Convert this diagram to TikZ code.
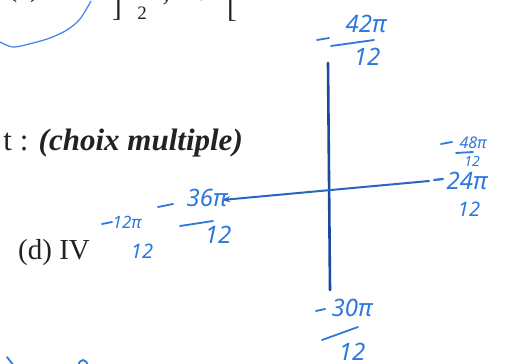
\documentclass[tikz,border=0pt]{standalone}
\usepackage{fontspec}
\setmainfont{Liberation Serif}
\newfontfamily\hand{Noto Sans}
\usetikzlibrary{arrows.meta}
\definecolor{ink}{HTML}{2E78DC}
\definecolor{axisink}{HTML}{1C4A9A}
\definecolor{hink}{HTML}{2A66C0}
\definecolor{printink}{HTML}{222222}
\definecolor{circink}{HTML}{4A8AE6}
\begin{document}
\begin{tikzpicture}[x=1pt,y=-1pt,
  hw/.style={text=ink, font=\hand\itshape\fontsize{#1}{#1}\selectfont, inner sep=0pt},
  hw/.default=24,
  stroke/.style={draw=ink, line width=1.8pt, line cap=round},
  vaxis/.style={draw=axisink, line width=2.6pt, line cap=round},
  haxis/.style={draw=hink, line width=2pt, line cap=round},
  printed/.style={text=printink, inner sep=0pt, font=\fontsize{#1}{#1}\selectfont},
  printed/.default=29]
\useasboundingbox (0,0) rectangle (506,364);
\clip (0,0) rectangle (506,364);
\fill[white] (0,0) rectangle (506,364);

% printed text
\node[printed, anchor=base east] (tc) at (40,-3) {(c)};
\node[printed, anchor=south] (rb) at (117,21) {]};
\node[printed=19, anchor=south] (two) at (142,20) {2};
\node[printed, anchor=base west] (semi) at (162,1) {;\,2π};
\node[printed, anchor=south] (lb) at (232,22) {[};
\node[printed=31, anchor=base east] (choix) at (243,150) {t : \textbf{\textit{(choix multiple)}}};
\node[printed, anchor=base west] (dIV) at (18,259) {(d) IV};

% blue circle arc
\draw[circink, line width=1.3pt] plot[smooth] coordinates {(-2,41) (13,47) (33,43) (50,38) (67,30) (80,19) (91,1)};

% axes
\coordinate (vt) at (328,63);
\coordinate (vb) at (330,290);
\coordinate (hl) at (222,200);
\coordinate (hr) at (429,181);
\draw[vaxis] (vt) -- (vb);
\draw[haxis, {Stealth[length=8pt,width=6pt]}-] (hl) -- (hr);

% top: -42pi/12
\node[hw] (n42) at (366,24) {42π};
\node[hw] (d42) at (367,57) {12};
\draw[stroke] (317,40) -- (329,38);
\draw[stroke] (331,46) -- (374,40);

% right upper: -48pi/12
\node[hw=16] (n48) at (473,143) {48π};
\node[hw=14] (d48) at (472,161) {12};
\draw[stroke] (441,144) -- (452,142);
\draw[stroke] (456,153) -- (473,152);

% right lower: -24pi/12
\draw[stroke, line width=2.3pt] (434,180) -- (443,179);
\node[hw] (n24) at (467,181) {24π};
\node[hw=20] (d24) at (469,209) {12};

% bottom: -30pi/12
\draw[stroke] (316,311) -- (325,309);
\node[hw] (n30) at (352,308) {30π};
\draw[stroke] (322,340) -- (358,327);
\node[hw] (d30) at (352,352) {12};

% left: -36pi/12
\draw[stroke] (158,207) -- (173,204);
\node[hw] (n36) at (207,198) {36π};
\draw[stroke] (180,226) -- (213,221);
\node[hw] (d36) at (218,235) {12};

% far left: -12pi/12
\draw[stroke] (102,224) -- (112,222);
\node[hw=17] (n12) at (127,222) {12π};
\node[hw=20] (d12) at (142,251) {12};

% bottom-left fragments
\draw[stroke] (7,357) -- (14,366);
\draw[stroke] (78,366) .. controls (80,358) and (86,358) .. (88,366);
\end{tikzpicture}
\end{document}
